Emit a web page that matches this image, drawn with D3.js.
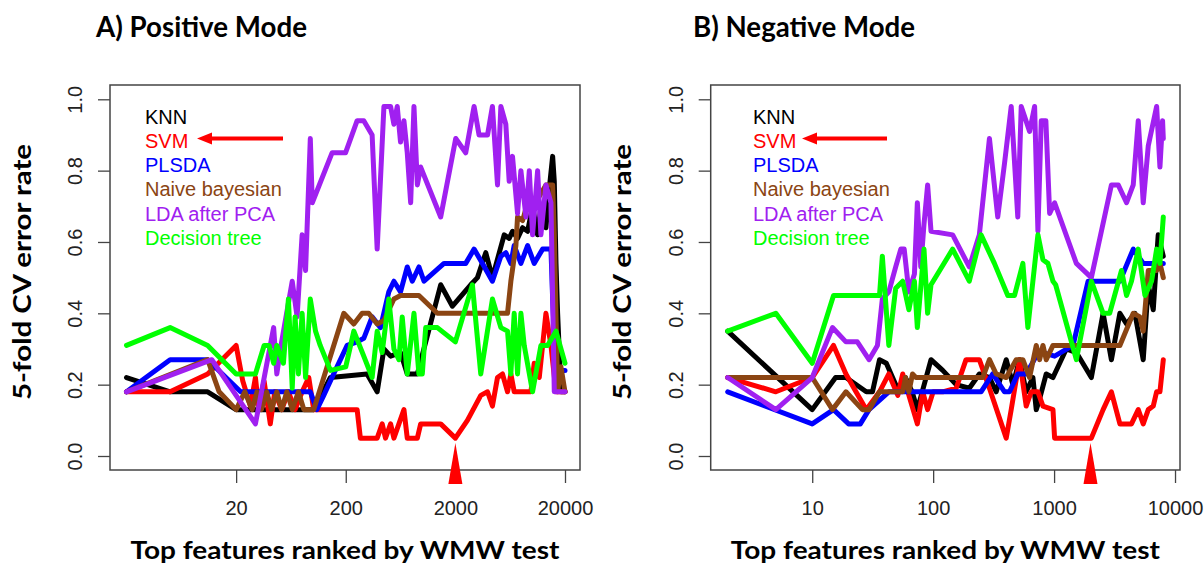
<!DOCTYPE html>
<html>
<head>
<meta charset="utf-8">
<script src="https://cdn.jsdelivr.net/npm/d3@7"></script>
<style>
  body { margin: 0; background: #fff; }
  svg { display: block; }
</style>
</head>
<body>
<svg id="chart" width="1204" height="569"></svg>
<script>
// Classifier names, in legend order
const methods = ["KNN", "SVM", "PLSDA", "Naive bayesian", "LDA after PCA", "Decision tree"];

// Axis ticks
const posTicks = [20, 200, 2000, 20000];
const negTicks = [10, 100, 1000, 10000];
const errTicks = [0, 0.2, 0.4, 0.6, 0.8, 1.0];

// Feature count at which SVM is marked
const markedFeatures = 2000;

// ---- Positive mode: [number of top features, 5-fold CV error rate] ----
const posKNN = [[2,0.22],[5,0.18],[11,0.18],[20,0.13],[102,0.13],[145,0.22],[313,0.23],[387,0.18],[446,0.30],[513,0.28],[632,0.29],[728,0.23],[900,0.23],[1469,0.48],[1880,0.42],[2760,0.48],[3180,0.50],[3785,0.57],[4355,0.50],[5575,0.62],[6195,0.61],[6640,0.63],[7380,0.61],[8200,0.64],[9120,0.63],[10120,0.70],[11250,0.62],[12060,0.70],[13400,0.64],[14380,0.75],[15430,0.84],[15970,0.77],[16550,0.54],[17130,0.40],[18375,0.18],[20000,0.18]];
const posSVM = [[2,0.18],[5,0.18],[11,0.23],[20,0.31],[23,0.21],[27,0.14],[30,0.22],[32,0.14],[36,0.21],[41,0.09],[45,0.18],[52,0.13],[60,0.18],[69,0.13],[80,0.18],[92,0.22],[102,0.13],[254,0.13],[272,0.05],[387,0.05],[430,0.09],[461,0.05],[513,0.09],[550,0.05],[611,0.09],[679,0.13],[728,0.05],[900,0.05],[965,0.09],[1469,0.09],[2000,0.05],[2575,0.10],[3410,0.17],[3930,0.18],[4355,0.14],[4845,0.22],[5380,0.23],[5980,0.18],[6415,0.23],[6880,0.18],[9775,0.18],[10470,0.26],[11650,0.22],[13400,0.40],[14890,0.31],[16550,0.18],[20000,0.18]];
const posPLSDA = [[2,0.18],[5,0.27],[11,0.27],[22,0.18],[62,0.18],[95,0.18],[109,0.13],[126,0.17],[155,0.23],[206,0.31],[254,0.32],[292,0.33],[348,0.39],[415,0.36],[494,0.46],[550,0.49],[632,0.46],[728,0.53],[809,0.49],[930,0.53],[1035,0.49],[1575,0.54],[2485,0.54],[2963,0.58],[3530,0.54],[4355,0.49],[5200,0.56],[5770,0.57],[6415,0.54],[6880,0.59],[7920,0.54],[9120,0.59],[10470,0.54],[12500,0.58],[14890,0.58],[15430,0.44],[16550,0.24],[20000,0.24]];
const posNaive = [[2,0.18],[11,0.27],[14,0.18],[20,0.13],[24,0.18],[28,0.13],[31,0.18],[34,0.13],[38,0.18],[42,0.13],[47,0.18],[52,0.13],[58,0.18],[65,0.13],[74,0.18],[83,0.13],[102,0.13],[192,0.40],[237,0.37],[282,0.40],[324,0.40],[387,0.37],[446,0.38],[550,0.44],[632,0.45],[930,0.45],[1370,0.40],[5980,0.40],[6415,0.49],[7130,0.59],[7380,0.67],[8200,0.66],[9120,0.71],[11250,0.72],[13400,0.76],[15430,0.76],[15970,0.62],[17130,0.18],[18375,0.25],[20000,0.18]];
const posLDA = [[2,0.18],[12,0.27],[30,0.09],[44,0.36],[47,0.23],[52,0.32],[65,0.49],[72,0.39],[80,0.62],[86,0.52],[95,0.89],[99,0.71],[150,0.85],[199,0.85],[254,0.94],[292,0.94],[348,0.90],[387,0.58],[446,0.98],[513,0.98],[550,0.93],[590,0.98],[632,0.88],[679,0.94],[728,0.85],[782,0.71],[838,0.98],[900,0.76],[965,0.81],[1469,0.67],[2015,0.89],[2485,0.85],[2963,0.98],[3290,0.90],[3930,0.90],[4355,0.98],[4845,0.76],[5200,0.98],[5770,0.93],[6195,0.77],[6640,0.84],[7380,0.68],[7920,0.80],[8810,0.67],[9450,0.80],[10120,0.62],[11250,0.80],[12060,0.62],[13400,0.76],[14890,0.71],[15970,0.18],[18375,0.18],[20000,0.18]];
const posTree = [[2,0.31],[5,0.36],[11,0.31],[20,0.23],[30,0.23],[36,0.31],[40,0.31],[44,0.26],[47,0.31],[54,0.26],[60,0.44],[65,0.19],[69,0.39],[74,0.23],[80,0.40],[86,0.22],[95,0.44],[106,0.35],[117,0.31],[145,0.24],[200,0.25],[237,0.35],[292,0.28],[348,0.22],[387,0.35],[430,0.29],[494,0.44],[550,0.30],[611,0.27],[655,0.39],[728,0.23],[838,0.40],[930,0.23],[998,0.23],[1072,0.36],[1370,0.36],[2000,0.32],[2860,0.48],[3410,0.23],[4355,0.44],[5200,0.36],[5980,0.35],[6415,0.23],[6880,0.40],[7380,0.23],[7920,0.40],[8495,0.31],[10120,0.18],[12060,0.31],[13870,0.31],[16550,0.35],[20000,0.26]];

// ---- Negative mode ----
const negKNN = [[2,0.35],[10,0.13],[15.6,0.22],[19,0.22],[28,0.18],[31.5,0.18],[36,0.27],[41,0.26],[52,0.18],[59,0.22],[67,0.18],[74,0.13],[96,0.27],[120,0.24],[155,0.20],[199,0.19],[241,0.23],[292,0.22],[332,0.18],[402,0.27],[456,0.20],[518,0.27],[588,0.18],[668,0.22],[712,0.13],[759,0.16],[861,0.23],[979,0.22],[1112,0.26],[1262,0.30],[1528,0.29],[2033,0.22],[2543,0.40],[2978,0.27],[3500,0.40],[3975,0.37],[4660,0.40],[5460,0.27],[6010,0.48],[6607,0.41],[7260,0.62],[8000,0.56]];
const negSVM = [[2,0.22],[5,0.18],[10,0.22],[15,0.31],[19,0.23],[23,0.18],[28,0.13],[36,0.18],[43,0.23],[51,0.17],[56,0.23],[63,0.17],[74,0.09],[82,0.18],[90,0.13],[100,0.18],[120,0.18],[155,0.19],[187,0.27],[241,0.27],[292,0.19],[402,0.05],[442,0.13],[518,0.27],[588,0.14],[647,0.18],[735,0.18],[809,0.14],[979,0.13],[1010,0.05],[2033,0.05],[2543,0.13],[2978,0.18],[3500,0.09],[4365,0.09],[4965,0.13],[5460,0.09],[6010,0.13],[6607,0.14],[7045,0.18],[7505,0.18],[8000,0.27]];
const negPLSDA = [[2,0.18],[10,0.09],[15,0.13],[20,0.09],[25,0.09],[29.5,0.13],[43,0.18],[249,0.18],[311,0.23],[389,0.18],[428,0.18],[501,0.23],[588,0.23],[712,0.28],[809,0.29],[1010,0.28],[1435,0.31],[1910,0.49],[3500,0.49],[4514,0.58],[5460,0.54],[8000,0.54]];
const negNaive = [[2,0.22],[10,0.22],[14.7,0.13],[19,0.18],[26,0.13],[29.5,0.13],[36,0.18],[56,0.18],[59,0.22],[63,0.18],[67.5,0.23],[72,0.22],[257,0.22],[292,0.27],[332,0.23],[402,0.22],[486,0.27],[552,0.27],[627,0.22],[712,0.31],[759,0.27],[809,0.31],[861,0.27],[979,0.31],[3500,0.31],[4514,0.40],[5120,0.39],[5460,0.35],[6010,0.52],[7045,0.52],[7505,0.54],[8000,0.50]];
const negLDA = [[2,0.22],[5,0.13],[10,0.22],[14.7,0.36],[19,0.32],[23.6,0.32],[29.5,0.27],[34.6,0.31],[38,0.44],[43,0.46],[49,0.53],[54,0.58],[57.6,0.58],[63,0.46],[70,0.51],[74,0.71],[79,0.53],[84,0.65],[90,0.76],[96,0.63],[145,0.62],[199,0.53],[241,0.62],[292,0.89],[342,0.67],[389,0.82],[442,0.98],[501,0.67],[535,0.98],[627,0.91],[690,0.98],[735,0.63],[783,0.94],[855,0.94],[919,0.68],[1010,0.71],[1528,0.54],[2033,0.50],[2978,0.76],[3390,0.76],[3975,0.71],[4514,0.76],[4965,0.94],[5460,0.71],[6010,0.87],[7045,0.98],[7505,0.81],[7890,0.94],[8000,0.89]];
const negTree = [[2,0.35],[5,0.40],[10,0.26],[15,0.45],[36,0.45],[38,0.56],[43,0.31],[49,0.47],[56,0.49],[63,0.41],[70,0.49],[74,0.36],[84,0.58],[90,0.40],[96,0.48],[145,0.58],[199,0.49],[249,0.62],[321,0.54],[414,0.45],[471,0.45],[552,0.54],[607,0.36],[735,0.62],[809,0.55],[889,0.54],[979,0.49],[1030,0.48],[1528,0.27],[2033,0.49],[2543,0.40],[2880,0.40],[3610,0.52],[3975,0.45],[4365,0.49],[4965,0.58],[5640,0.45],[6400,0.49],[7045,0.58],[7505,0.54],[8000,0.67]];

// ---- Styling and layout ----
const lineColors = ["#000000", "#ff0000", "#0000ff", "#8b4513", "#a020f0", "#00ff00"];
const frameColor = "#444";
const labelFont = "Lato, 'Open Sans', sans-serif";
const tickFont = "'Liberation Sans', Arial, sans-serif";

const panels = [
  { title: "A) Positive Mode", titleX: 96, titleW: 211,
    series: [posKNN, posSVM, posPLSDA, posNaive, posLDA, posTree],
    xTicks: posTicks, xDomain: [2, 20000], xRange: [126.5, 565],
    left: 110, right: 580, legendX: 145, arrow: [197, 283] },
  { title: "B) Negative Mode", titleX: 693, titleW: 222,
    series: [negKNN, negSVM, negPLSDA, negNaive, negLDA, negTree],
    xTicks: negTicks, xDomain: [2, 8000], xRange: [727.7, 1163.3],
    left: 710.7, right: 1180, legendX: 753, arrow: [802, 887] }
];

const plotTop = 85, plotBottom = 470;
const svg = d3.select("#chart");
svg.append("rect").attr("width", 1204).attr("height", 569).attr("fill", "#fff");

const y = d3.scaleLinear().domain([0, 1]).range([456, 99.3]);

panels.forEach(p => {
  const g = svg.append("g");
  const x = d3.scaleLog().domain(p.xDomain).range(p.xRange);

  // Panel title
  g.append("text")
    .attr("x", p.titleX).attr("y", 37)
    .attr("font-family", labelFont).attr("font-weight", 700).attr("font-size", 28)
    .attr("textLength", p.titleW).attr("lengthAdjust", "spacingAndGlyphs")
    .text(p.title);

  // Y axis with rotated tick labels
  const yAxis = g.append("g")
    .attr("transform", `translate(${p.left},0)`)
    .call(d3.axisLeft(y).tickValues(errTicks).tickSize(12).tickFormat(d3.format(".1f")));
  yAxis.select(".domain").remove();
  yAxis.selectAll(".tick line").attr("stroke", frameColor).attr("stroke-width", 1.3);
  yAxis.selectAll(".tick text")
    .attr("transform", "rotate(-90)")
    .attr("x", 0).attr("y", -35).attr("dy", "0.36em")
    .attr("text-anchor", "middle")
    .attr("font-family", tickFont).attr("font-size", 20).attr("fill", "#222");

  // X axis (log scale)
  const xAxis = g.append("g")
    .attr("transform", `translate(0,${plotBottom})`)
    .call(d3.axisBottom(x).tickValues(p.xTicks).tickSize(13).tickPadding(18).tickFormat(d3.format("d")));
  xAxis.select(".domain").remove();
  xAxis.selectAll(".tick line").attr("stroke", frameColor).attr("stroke-width", 1.3);
  xAxis.selectAll(".tick text")
    .attr("font-family", tickFont).attr("font-size", 20).attr("fill", "#222");

  // Axis titles
  g.append("text")
    .attr("transform", `translate(${p.left - 88},272) rotate(-90)`)
    .attr("text-anchor", "middle").attr("dy", "0.35em")
    .attr("font-family", labelFont).attr("font-weight", 700).attr("font-size", 25)
    .attr("textLength", 256).attr("lengthAdjust", "spacingAndGlyphs")
    .text("5-fold CV error rate");
  g.append("text")
    .attr("x", (p.left + p.right) / 2).attr("y", 559)
    .attr("text-anchor", "middle")
    .attr("font-family", labelFont).attr("font-weight", 700).attr("font-size", 25)
    .attr("textLength", 429).attr("lengthAdjust", "spacingAndGlyphs")
    .text("Top features ranked by WMW test");

  // Error-rate curves
  const line = d3.line().x(d => x(d[0])).y(d => y(d[1]));
  p.series.forEach((s, i) => {
    g.append("path")
      .datum(s)
      .attr("d", line)
      .attr("fill", "none")
      .attr("stroke", lineColors[i])
      .attr("stroke-width", 5)
      .attr("stroke-linejoin", "round")
      .attr("stroke-linecap", "round");
  });

  // Plot frame
  g.append("rect")
    .attr("x", p.left).attr("y", plotTop)
    .attr("width", p.right - p.left).attr("height", plotBottom - plotTop)
    .attr("fill", "none").attr("stroke", frameColor).attr("stroke-width", 1.5);

  // Legend
  methods.forEach((m, i) => {
    g.append("text")
      .attr("x", p.legendX).attr("y", 123.5 + i * 24.3)
      .attr("font-family", tickFont).attr("font-size", 20)
      .attr("fill", lineColors[i])
      .text(m);
  });

  // Arrow pointing at the SVM legend entry
  const ay = 138.5;
  g.append("line")
    .attr("x1", p.arrow[0] + 12).attr("x2", p.arrow[1])
    .attr("y1", ay).attr("y2", ay)
    .attr("stroke", "#ff0000").attr("stroke-width", 4);
  g.append("path")
    .attr("d", `M${p.arrow[0]},${ay} L${p.arrow[0] + 15},${ay - 6} L${p.arrow[0] + 15},${ay + 6} Z`)
    .attr("fill", "#ff0000");

  // Marker at the selected feature count
  const mx = x(markedFeatures);
  g.append("path")
    .attr("d", `M${mx},443 L${mx + 7},484 L${mx - 7},484 Z`)
    .attr("fill", "#ff0000");
});
</script>
</body>
</html>
